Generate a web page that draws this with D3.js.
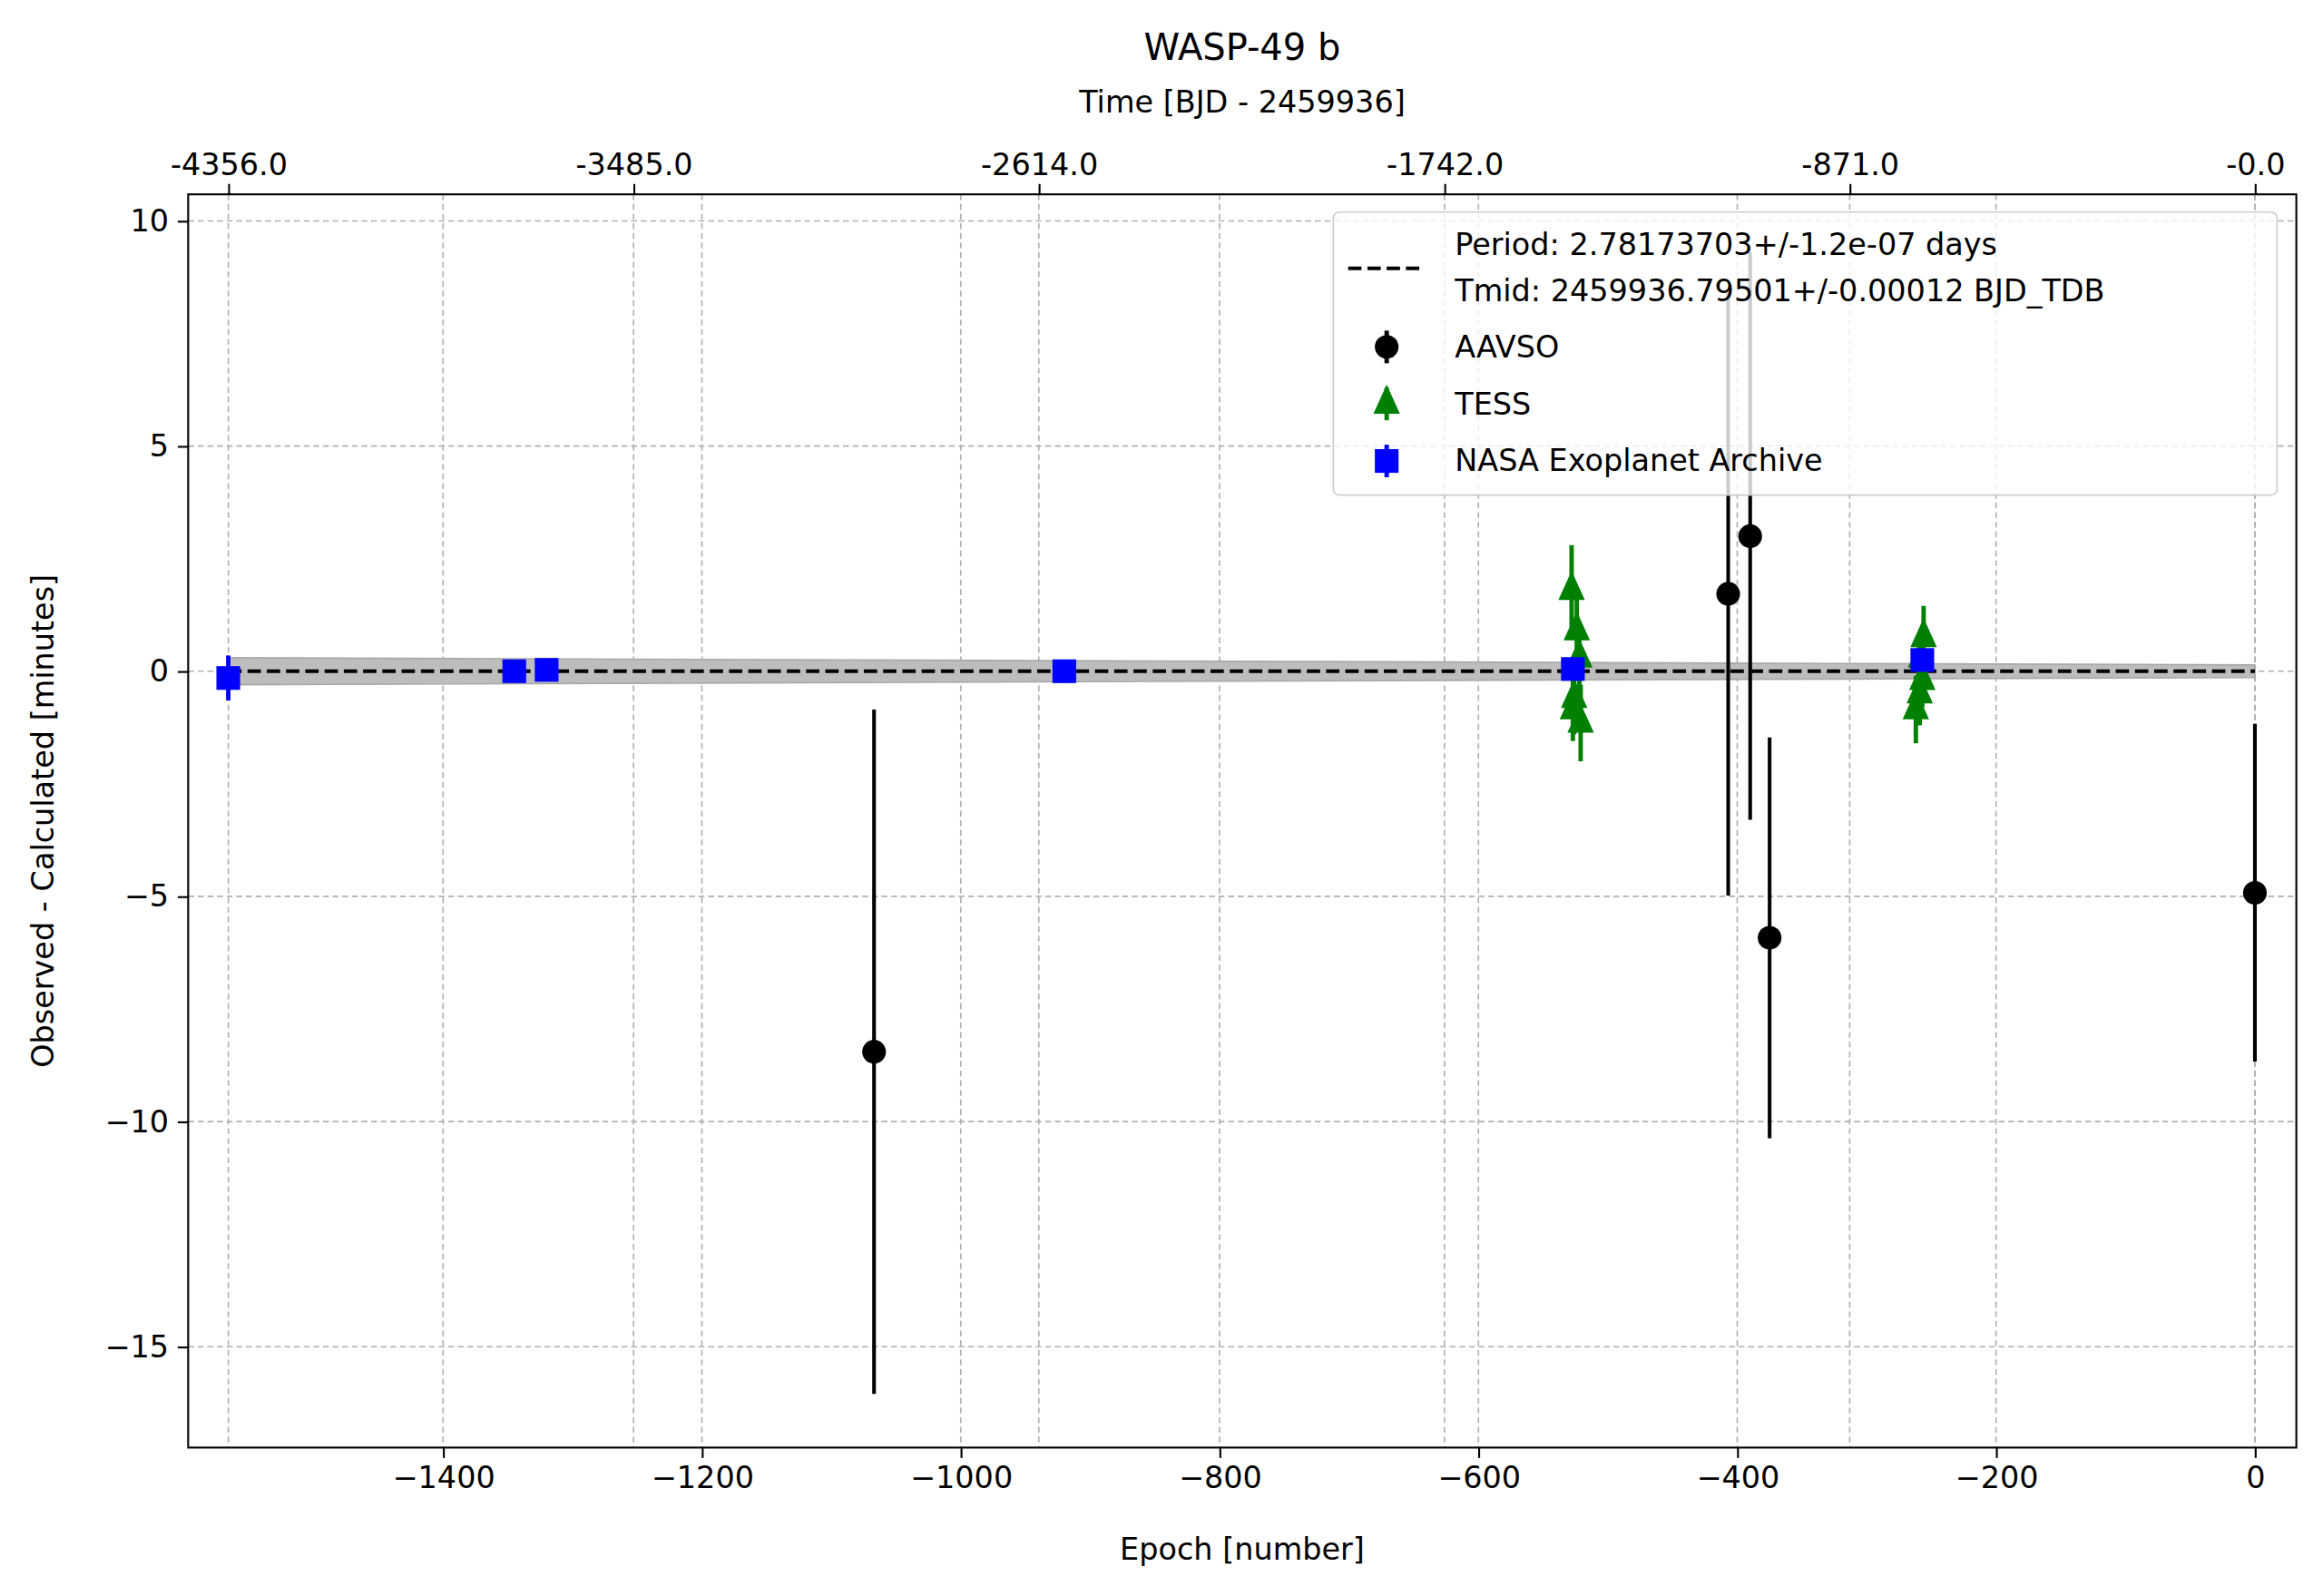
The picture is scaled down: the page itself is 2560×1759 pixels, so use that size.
<!DOCTYPE html>
<html><head><meta charset="utf-8">
<script src="https://cdn.jsdelivr.net/npm/d3@7"></script>
<style>body{margin:0;background:#fff}text{font-family:"DejaVu Sans",sans-serif}</style>
</head><body>
<svg id="chart" width="2560" height="1759" viewBox="0 0 1568 1077"></svg>
<script>
var period = 2.78173703;
var aavso = [[-1067,-8.45,7.6],[-407,1.72,6.7],[-390,3.0,6.3],[-375,-5.92,4.45],[0,-4.92,3.75]];
var tess = [[-528,1.8,1.0],[-524,0.9,0.8],[-522,0.3,0.8],[-526,-0.6,0.8],[-527,-0.85,0.7],[-521,-1.15,0.85],
            [-256,0.75,0.7],[-258,0.3,0.6],[-257,-0.2,0.6],[-259,-0.5,0.7],[-262,-0.85,0.75]];
var nasa = [[-1566,-0.15,0.5],[-1345,0.0,0.25],[-1320,0.03,0.25],[-920,0.0,0.12],[-527,0.05,0.2],[-257,0.25,0.2]];
var band = [[-1566,0.3],[0,0.14]];
var yTicks = [10,5,0,-5,-10,-15];
var xTicks = [-1400,-1200,-1000,-800,-600,-400,-200,0];
var topTicks = [-4356,-3485,-2614,-1742,-871,0];

var L=127,R=1550,T=131,B=977;
var FS=20.5;
var svg=d3.select("#chart");
var x=d3.scaleLinear().domain([-1597,32]).range([L,R]);
var y=d3.scaleLinear().domain([10.59,-17.24]).range([T,B]);
var xt=d3.scaleLinear().domain([-1597*period,32*period]).range([L,R]);

var g=svg.append("g");
// grid
g.selectAll(".gx").data(topTicks).enter().append("line").attr("x1",d=>xt(d)).attr("x2",d=>xt(d)).attr("y1",T).attr("y2",B)
 .attr("stroke","#b0b0b0").attr("stroke-dasharray","4,2.5");
g.selectAll(".gx2").data(xTicks).enter().append("line").attr("x1",d=>x(d)).attr("x2",d=>x(d)).attr("y1",T).attr("y2",B)
 .attr("stroke","#b0b0b0").attr("stroke-dasharray","4,2.5");
g.selectAll(".gy").data(yTicks).enter().append("line").attr("y1",d=>y(d)).attr("y2",d=>y(d)).attr("x1",L).attr("x2",R)
 .attr("stroke","#b0b0b0").attr("stroke-dasharray","4,2.5");

// band
var xs=[band[0][0],band[1][0]];
g.append("path").attr("d",d3.area().x(d=>x(d[0])).y0(d=>y(d[1])).y1(d=>y(-d[1]))(band))
 .attr("fill","#bdbdbd").attr("stroke","#a8a8a8").attr("stroke-width",1);
g.append("line").attr("x1",x(xs[0])).attr("x2",x(xs[1])).attr("y1",y(0)).attr("y2",y(0))
 .attr("stroke","#000").attr("stroke-width",2.5).attr("stroke-dasharray","9,4");

function errs(data,color,w){
  g.selectAll(null).data(data).enter().append("line").attr("x1",d=>x(d[0])).attr("x2",d=>x(d[0]))
   .attr("y1",d=>y(d[1]+d[2])).attr("y2",d=>y(d[1]-d[2])).attr("stroke",color).attr("stroke-width",w);
}
errs(aavso,"#000",2.5);
g.selectAll(null).data(aavso).enter().append("circle").attr("cx",d=>x(d[0])).attr("cy",d=>y(d[1])).attr("r",8).attr("fill","#000");
errs(tess,"green",3);
var tri=d3.symbol().type(d3.symbolTriangle).size(170);
g.selectAll(null).data(tess).enter().append("path").attr("d",tri).attr("fill","green")
 .attr("transform",d=>"translate("+x(d[0])+","+y(d[1])+") scale(0.9,1.15)");
errs(nasa,"blue",3);
g.selectAll(null).data(nasa).enter().append("rect").attr("x",d=>x(d[0])-8).attr("y",d=>y(d[1])-8)
 .attr("width",16).attr("height",16).attr("fill","blue");

// frame
svg.append("rect").attr("x",L).attr("y",T).attr("width",R-L).attr("height",B-T).attr("fill","none").attr("stroke","#000").attr("stroke-width",1.3);

// axes
function styl(a){a.selectAll("text").attr("font-size",FS).attr("font-family","DejaVu Sans");a.select(".domain").remove();a.selectAll("line").attr("stroke-width",1.3);}
svg.append("g").attr("transform","translate(0,"+B+")").call(d3.axisBottom(x).tickValues(xTicks).tickSize(7).tickPadding(6).tickFormat(d=>d<0?"\u2212"+Math.abs(d):d)).call(styl);
svg.append("g").attr("transform","translate("+L+",0)").call(d3.axisLeft(y).tickValues(yTicks).tickSize(7).tickPadding(6).tickFormat(d=>d<0?"\u2212"+Math.abs(d):d)).call(styl);
svg.append("g").attr("transform","translate(0,"+T+")").call(d3.axisTop(xt).tickValues(topTicks).tickSize(7).tickPadding(6).tickFormat(d=>d===0?"-0.0":d.toFixed(1))).call(styl);

svg.append("text").attr("x",(L+R)/2).attr("y",1053).attr("text-anchor","middle").attr("font-size",FS).text("Epoch [number]");
svg.append("text").attr("x",(L+R)/2).attr("y",76).attr("text-anchor","middle").attr("font-size",FS).text("Time [BJD - 2459936]");
svg.append("text").attr("x",(L+R)/2).attr("y",40).attr("text-anchor","middle").attr("font-size",24.5).text("WASP-49 b");
svg.append("text").attr("transform","translate(36,"+((T+B)/2)+") rotate(-90)").attr("text-anchor","middle").attr("font-size",FS).text("Observed - Calculated [minutes]");

// legend
var lg=svg.append("g");
lg.append("rect").attr("x",900).attr("y",143).attr("width",637).attr("height",191).attr("rx",4)
 .attr("fill","#fff").attr("fill-opacity",0.8).attr("stroke","#ccc");
lg.append("line").attr("x1",910).attr("x2",962).attr("y1",181).attr("y2",181).attr("stroke","#000").attr("stroke-width",2.5).attr("stroke-dasharray","9,4");
lg.append("text").attr("x",982).attr("y",172).attr("font-size",FS).text("Period: 2.78173703+/-1.2e-07 days");
lg.append("text").attr("x",982).attr("y",203).attr("font-size",FS).text("Tmid: 2459936.79501+/-0.00012 BJD_TDB");
var items=[["AAVSO","#000","c"],["TESS","green","t"],["NASA Exoplanet Archive","blue","s"]];
items.forEach(function(it,i){
  var cy=234+i*38.5;
  lg.append("line").attr("x1",936).attr("x2",936).attr("y1",cy-11).attr("y2",cy+11).attr("stroke",it[1]).attr("stroke-width",3);
  if(it[2]=="c")lg.append("circle").attr("cx",936).attr("cy",cy).attr("r",8).attr("fill",it[1]);
  else if(it[2]=="t")lg.append("path").attr("d",tri).attr("fill",it[1]).attr("transform","translate(936,"+cy+") scale(0.9,1.15)");
  else lg.append("rect").attr("x",928).attr("y",cy-8).attr("width",16).attr("height",16).attr("fill",it[1]);
  lg.append("text").attr("x",982).attr("y",cy+7).attr("font-size",FS).text(it[0]);
});
</script>
</body></html>
